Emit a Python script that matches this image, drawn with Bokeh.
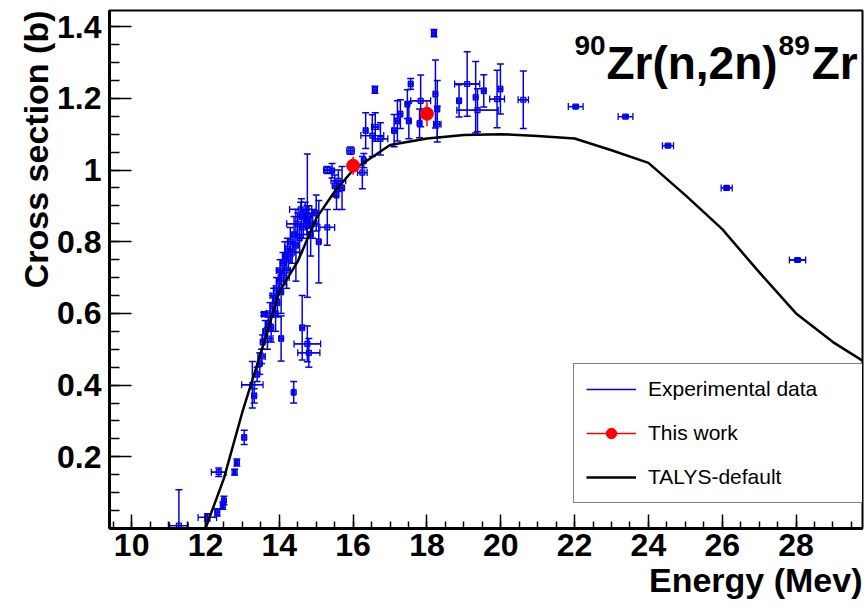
import math
from bokeh.plotting import figure
from bokeh.models import (ColumnDataSource, Whisker, TeeHead, Label, Legend, LegendItem,
                          FixedTicker, Range1d, Title)
from bokeh.embed import file_html
from bokeh.resources import INLINE

# ---------------- data ----------------
# Experimental data (EXFOR compilation): energy (MeV), cross section (b), errors
exp_E = [11.28, 12.05, 12.32, 12.47, 12.50, 12.36, 12.79, 12.85, 13.05, 13.27,
         13.32, 13.40, 13.47, 13.52, 13.55, 13.58, 13.62, 13.68, 13.70, 13.75,
         13.78, 13.82, 13.85, 13.90, 13.92, 13.95, 14.00, 14.02, 14.05, 14.05,
         14.10, 14.12, 14.15, 14.20, 14.22, 14.25, 14.30, 14.35, 14.39, 14.40,
         14.45, 14.50, 14.55, 14.58, 14.60, 14.62, 14.65, 14.70, 14.75, 14.76,
         14.76, 14.80, 14.80, 14.85, 14.90, 15.00, 15.07, 15.30, 15.30, 15.43,
         15.50, 15.55, 15.60, 15.70, 15.93, 16.25, 16.29, 16.34, 16.52, 16.59,
         16.60, 16.74, 17.11, 17.20, 17.28, 17.47, 17.51, 17.56, 17.80, 17.83,
         18.19, 18.23, 18.28, 18.28, 18.87, 19.09, 19.32, 19.37, 19.54, 19.90,
         19.99, 20.61, 22.03, 23.38, 24.53, 26.12, 28.04]
exp_xs = [0.008, 0.031, 0.045, 0.064, 0.078, 0.157, 0.157, 0.184, 0.254, 0.401,
          0.370, 0.430, 0.460, 0.480, 0.520, 0.598, 0.550, 0.530, 0.570, 0.600,
          0.560, 0.620, 0.650, 0.600, 0.670, 0.630, 0.690, 0.720, 0.530, 0.660,
          0.740, 0.700, 0.760, 0.720, 0.780, 0.750, 0.800, 0.770, 0.380, 0.820,
          0.790, 0.850, 0.810, 0.890, 0.870, 0.560, 0.840, 0.880, 0.860, 0.845,
          0.515, 0.490, 0.870, 0.820, 0.850, 0.880, 0.800, 0.840, 1.000, 0.998,
          0.956, 0.930, 0.970, 0.950, 1.054, 0.993, 1.026, 1.110, 1.096, 1.224,
          1.120, 1.087, 1.110, 1.137, 1.156, 1.184, 1.137, 1.240, 1.130, 1.193,
          1.382, 1.212, 1.170, 1.128, 1.193, 1.240, 1.203, 1.167, 1.221, 1.198,
          1.226, 1.196, 1.177, 1.149, 1.068, 0.950, 0.749]
exp_dE = [0.25, 0.25, 0.05, 0.03, 0.03, 0.20, 0.03, 0.03, 0.05, 0.29,
          0.05, 0.05, 0.05, 0.10, 0.05, 0.05, 0.05, 0.15, 0.05, 0.10,
          0.05, 0.05, 0.10, 0.05, 0.08, 0.05, 0.05, 0.10, 0.05, 0.05,
          0.05, 0.15, 0.05, 0.10, 0.05, 0.05, 0.05, 0.20, 0.03, 0.05,
          0.05, 0.30, 0.05, 0.30, 0.05, 0.05, 0.10, 0.05, 0.05, 0.05,
          0.36, 0.30, 0.10, 0.05, 0.15, 0.05, 0.05, 0.20, 0.10, 0.05,
          0.05, 0.05, 0.20, 0.05, 0.10, 0.13, 0.05, 0.05, 0.31, 0.05,
          0.10, 0.20, 0.05, 0.05, 0.05, 0.05, 0.05, 0.05, 0.05, 0.27,
          0.05, 0.05, 0.05, 0.10, 0.05, 0.34, 0.05, 0.56, 0.05, 0.20,
          0.05, 0.14, 0.20, 0.20, 0.15, 0.15, 0.22]
exp_dxs = [0.100, 0.010, 0.010, 0.010, 0.012, 0.012, 0.008, 0.010, 0.020, 0.065,
           0.020, 0.020, 0.030, 0.020, 0.020, 0.005, 0.030, 0.030, 0.020, 0.030,
           0.040, 0.030, 0.020, 0.050, 0.030, 0.040, 0.030, 0.030, 0.063, 0.060,
           0.030, 0.020, 0.040, 0.050, 0.030, 0.030, 0.040, 0.030, 0.030, 0.050,
           0.100, 0.030, 0.040, 0.020, 0.050, 0.090, 0.030, 0.030, 0.040, 0.200,
           0.050, 0.040, 0.030, 0.060, 0.040, 0.050, 0.115, 0.050, 0.010, 0.020,
           0.030, 0.040, 0.030, 0.060, 0.010, 0.045, 0.020, 0.050, 0.058, 0.010,
           0.040, 0.045, 0.045, 0.056, 0.040, 0.040, 0.050, 0.015, 0.040, 0.072,
           0.010, 0.095, 0.080, 0.050, 0.045, 0.090, 0.100, 0.060, 0.045, 0.080,
           0.070, 0.080, 0.004, 0.004, 0.004, 0.004, 0.004]

# This work
tw_E = [16.0, 18.0]
tw_xs = [1.012, 1.157]
tw_dxs = [0.025, 0.035]

# TALYS-default calculation
talys_E = [12.0, 12.5, 13.0, 13.5, 14.0, 14.5, 15.0, 15.5, 16.0, 17.0, 18.0, 19.0,
           20.0, 21.0, 22.0, 23.0, 24.0, 25.0, 26.0, 27.0, 28.0, 29.0, 30.0]
talys_xs = [0.0, 0.14, 0.325, 0.49, 0.66, 0.745, 0.865, 0.94, 1.0, 1.07, 1.088, 1.098,
            1.10, 1.095, 1.088, 1.055, 1.02, 0.93, 0.835, 0.715, 0.60, 0.52, 0.455]

x_ticks = [10, 12, 14, 16, 18, 20, 22, 24, 26, 28]
x_tick_labels = ["10", "12", "14", "16", "18", "20", "22", "24", "26", "28"]
y_ticks = [0.2, 0.4, 0.6, 0.8, 1.0, 1.2, 1.4]
y_tick_labels = ["0.2", "0.4", "0.6", "0.8", "1", "1.2", "1.4"]

# ---------------- figure ----------------
FONT = "Liberation Sans"
BLUE = "#0000ee"

p = figure(width=868, height=607, output_backend="svg", toolbar_location=None,
           x_range=Range1d(9.4, 29.8), y_range=Range1d(0, 1.445),
           min_border_left=109, min_border_right=6, min_border_top=10, min_border_bottom=79,
           background_fill_color="white", border_fill_color="white")
p.grid.visible = False
p.outline_line_color = "black"
p.outline_line_width = 2

src = ColumnDataSource(dict(
    x=exp_E, y=exp_xs,
    xl=[e - d for e, d in zip(exp_E, exp_dE)], xu=[e + d for e, d in zip(exp_E, exp_dE)],
    yl=[s - d for s, d in zip(exp_xs, exp_dxs)], yu=[s + d for s, d in zip(exp_xs, exp_dxs)]))

h_seg = p.segment(x0="xl", y0="y", x1="xu", y1="y", source=src, line_color=BLUE, line_width=1.3)
p.add_layout(Whisker(source=src, base="x", lower="yl", upper="yu", dimension="height",
                     line_color=BLUE, line_width=1.5,
                     upper_head=TeeHead(size=7, line_color=BLUE, line_width=1.5),
                     lower_head=TeeHead(size=7, line_color=BLUE, line_width=1.5)))
p.add_layout(Whisker(source=src, base="y", lower="xl", upper="xu", dimension="width",
                     line_color=BLUE, line_width=1.3,
                     upper_head=TeeHead(size=7, line_color=BLUE, line_width=1.3),
                     lower_head=TeeHead(size=7, line_color=BLUE, line_width=1.3)))
p.scatter("x", "y", source=src, marker="square", size=5, line_color=BLUE,
          fill_color=BLUE, fill_alpha=0.4, line_width=1.2)

tl = p.line(talys_E, talys_xs, line_color="black", line_width=2.5)

src_r = ColumnDataSource(dict(x=tw_E, y=tw_xs,
                              yl=[s - d for s, d in zip(tw_xs, tw_dxs)],
                              yu=[s + d for s, d in zip(tw_xs, tw_dxs)]))
r_seg = p.segment(x0="x", y0="yl", x1="x", y1="yu", source=src_r, line_color="red", line_width=1.5)
r_pts = p.scatter("x", "y", source=src_r, marker="circle", size=13, color="red")

# ---------------- axes ----------------
for ax in (p.xaxis[0], p.yaxis[0]):
    ax.axis_line_width = 3
    ax.major_tick_out = 0
    ax.minor_tick_out = 0
    ax.major_tick_line_width = 1.5
    ax.minor_tick_line_width = 1.5
    ax.major_label_text_font = FONT
    ax.major_label_text_font_style = "bold"
    ax.major_label_text_font_size = "32px"
    ax.major_label_text_color = "black"

p.xaxis[0].ticker = FixedTicker(ticks=x_ticks, minor_ticks=[9.5 + 0.5 * i for i in range(41)])
p.xaxis[0].major_label_overrides = {t: l for t, l in zip(x_ticks, x_tick_labels)}
p.xaxis[0].major_tick_in = 14
p.xaxis[0].minor_tick_in = 7
p.xaxis[0].major_label_standoff = 5

p.yaxis[0].ticker = FixedTicker(ticks=y_ticks, minor_ticks=[0.05 * i for i in range(30)])
p.yaxis[0].major_label_overrides = {t: l for t, l in zip(y_ticks, y_tick_labels)}
p.yaxis[0].major_tick_in = 22
p.yaxis[0].minor_tick_in = 10
p.yaxis[0].major_label_standoff = 8

# axis titles (placed as side titles so they can be end-aligned like the original)
p.add_layout(Title(text="Energy (Mev)", align="right", text_font=FONT, text_font_style="bold",
                   text_font_size="34px", text_color="black", standoff=0, offset=0), "below")
p.add_layout(Title(text="Cross section (b)", align="right", text_font=FONT, text_font_style="bold",
                   text_font_size="34px", text_color="black", standoff=0, offset=0), "left")

# reaction title
def tlabel(x, y, text, size):
    p.add_layout(Label(x=x, y=y, text=text, text_align="right", text_baseline="alphabetic",
                       text_font=FONT, text_font_style="bold", text_font_size=size,
                       text_color="black"))

tlabel(29.67, 1.299, "Zr", "46px")
tlabel(28.37, 1.347, "89", "28px")
tlabel(27.50, 1.299, "Zr(n,2n)", "46px")
tlabel(22.84, 1.347, "90", "28px")

# ---------------- legend ----------------
legend = Legend(items=[LegendItem(label="Experimental data", renderers=[h_seg]),
                       LegendItem(label="This work", renderers=[r_seg, r_pts]),
                       LegendItem(label="TALYS-default", renderers=[tl])],
                location=(464, 25), orientation="vertical",
                border_line_color="black", border_line_width=1.5,
                background_fill_color="white", background_fill_alpha=1.0,
                label_text_font=FONT, label_text_font_size="21px", label_text_color="black",
                glyph_width=50, glyph_height=26, label_height=26, label_width=203,
                label_standoff=12, padding=12, spacing=18, margin=0)
p.add_layout(legend)

open("out.html", "w").write(file_html(p, INLINE))
